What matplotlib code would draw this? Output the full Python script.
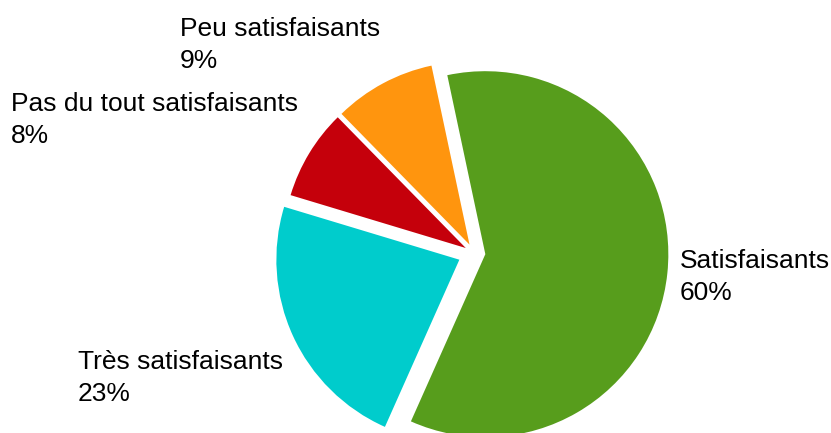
import matplotlib
matplotlib.use("Agg")
import matplotlib.pyplot as plt

### share of answers, in drawing order (clockwise from the top)
categories = ["Satisfaisants", "Très satisfaisants", "Pas du tout satisfaisants", "Peu satisfaisants"]
shares = [60, 23, 8, 9]
colors = ["#579d1c", "#00cccc", "#c5000b", "#ff950e"]

### the axes are laid out in pixels (0..831 x 0..433), y counted from the bottom
W, H = 831, 433
center = (474, H - 253)
radius = 183
explode = [11.4, 16.1, 9.6, 9.5]

# label anchor: left edge and baseline of the first line, in pixels from the top
label_pos = [(680, 268), (78, 369), (11, 111), (180, 36)]
line_gap = 32

plt.rcParams["font.family"] = ["Liberation Sans", "DejaVu Sans"]

fig = plt.figure(figsize=(W / 100, H / 100), dpi=100)
ax = fig.add_axes([0, 0, 1, 1])

ax.pie(shares, colors=colors, startangle=102, counterclock=False,
       radius=radius, center=center, explode=explode,
       wedgeprops=dict(linewidth=0))

for name, val, (x, y) in zip(categories, shares, label_pos):
    ax.text(x, H - y, name, fontsize=19, ha="left", va="baseline")
    ax.text(x, H - y - line_gap, "%d%%" % val, fontsize=19, ha="left", va="baseline")

ax.set_xlim(0, W)
ax.set_ylim(0, H)
ax.set_aspect("equal")
ax.axis("off")

plt.savefig("out.png", dpi=100)
